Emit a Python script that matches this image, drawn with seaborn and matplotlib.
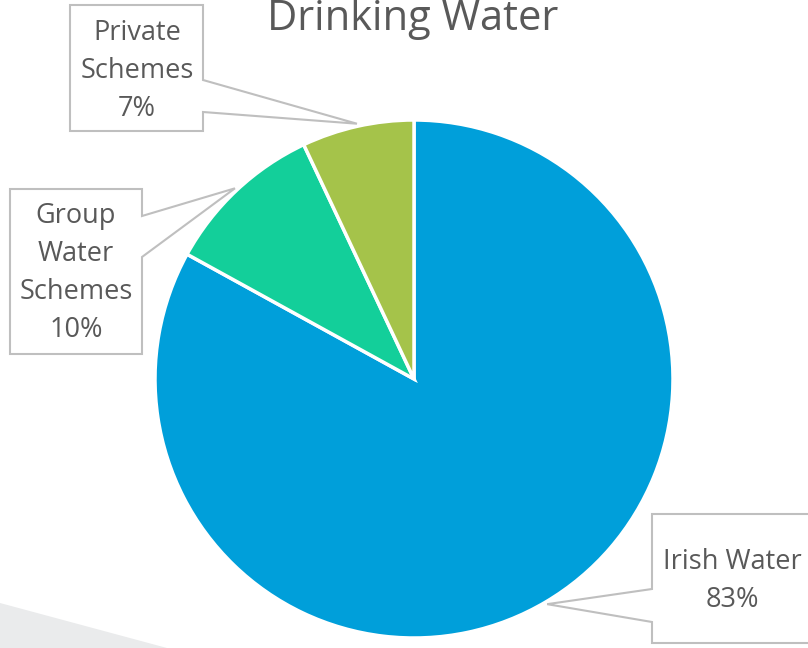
import numpy as np
import matplotlib.pyplot as plt
from matplotlib.patches import Polygon
import seaborn as sns

sns.set_theme(style="white")
plt.rcParams['font.family'] = ['Open Sans', 'DejaVu Sans']

# data
sources = ["Irish Water", "Group Water Schemes", "Private Schemes"]
label_text = ["Irish Water", "Group\nWater\nSchemes", "Private\nSchemes"]
shares = [83, 10, 7]
colors = ["#009FDA", "#13CF9A", "#A5C34A"]

W, H = 808, 648
fig = plt.figure(figsize=(W / 100, H / 100), dpi=100)
ax = fig.add_axes([0, 0, 1, 1])


def py(y):
    # pixel row (from top) -> data y
    return H - y


# faint grey background shape in the bottom-left corner
ax.add_patch(Polygon([(0, py(603)), (167, py(648)), (0, py(648))],
                     closed=True, facecolor="#EAEBEC", edgecolor="none", zorder=0))

cx, cy, R = 414, py(379), 259
ax.pie(shares, colors=colors, startangle=90, counterclock=False,
       center=(cx, cy), radius=R,
       wedgeprops=dict(edgecolor="white", linewidth=2.5))

# callout boxes: (x0, y0, x1, y1) in pixels, notch side, notch y range, text centre
boxes = [
    ((652, 514, 815, 643), "left", (589, 622), (732, 581)),
    ((10, 189, 142, 354), "right", (216, 257), (76, 273)),
    ((70, 5, 203, 131), "right", (80, 112), (137, 71)),
]

cum = np.cumsum([0] + shares[:-1])
for i, (rect, side, (n0, n1), (tx, ty)) in enumerate(boxes):
    mid = np.deg2rad(90 - (cum[i] + shares[i] / 2) * 3.6)
    tip = (cx + 1.01 * R * np.cos(mid), cy + 1.01 * R * np.sin(mid))
    x0, y0, x1, y1 = rect
    if side == "right":
        pts = [(x0, py(y0)), (x1, py(y0)), (x1, py(n0)), tip,
               (x1, py(n1)), (x1, py(y1)), (x0, py(y1))]
    else:
        pts = [(x0, py(y0)), (x1, py(y0)), (x1, py(y1)), (x0, py(y1)),
               (x0, py(n1)), tip, (x0, py(n0))]
    ax.add_patch(Polygon(pts, closed=True, facecolor="white",
                         edgecolor="#BFBFBF", linewidth=1.5, zorder=3))
    ax.text(tx, py(ty), f"{label_text[i]}\n{shares[i]}%", ha="center", va="center",
            multialignment="center", fontsize=19.5, color="#595959",
            linespacing=1.48, zorder=4)

# title sits partly above the top edge, as in the original slide
ax.text(413, py(30), "Drinking Water", ha="center", va="baseline",
        fontsize=30, color="#595959")

ax.set_xlim(0, W)
ax.set_ylim(0, H)
ax.set_aspect("equal")
ax.set_axis_off()

plt.savefig("out.png", dpi=100)
